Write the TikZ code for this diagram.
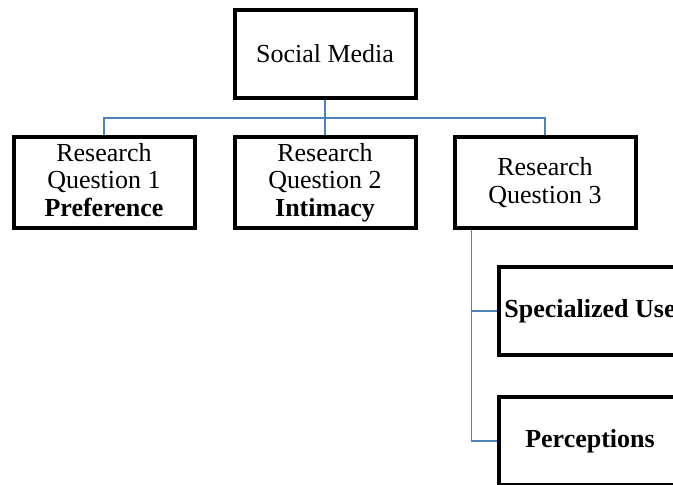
\documentclass[tikz,border=0pt]{standalone}
\usepackage{fontspec}
\setmainfont{Liberation Serif}
\usetikzlibrary{positioning}
\definecolor{linkblue}{RGB}{79,129,189}

\begin{document}
\begin{tikzpicture}[
  x=1pt, y=-1pt,
  node distance=36pt and 36pt,
  qbox/.style={rectangle, draw=black, line width=4pt, fill=white, minimum width=181pt, minimum height=91pt, inner sep=0pt, align=center, font=\fontsize{26}{27.5}\selectfont},
  link/.style={draw=linkblue, line width=1.6pt},
]
  \clip (0,0) rectangle (673,485);

  % Top level
  \node[qbox, minimum height=88pt] (social) at (325,54) {Social Media};

  % Research questions
  \node[qbox] (rq2) at (325,182.5) {Research\\Question 2\\\textbf{Intimacy}};
  \node[qbox, left=36pt of rq2] (rq1) {Research\\Question 1\\\textbf{Preference}\vphantom{y}};
  \node[qbox, right=35pt of rq2] (rq3) {Research\\Question 3};

  % Sub-topics of RQ3
  \node[qbox, minimum width=182pt, minimum height=88pt] (spec) at (590,311) {\textbf{Specialized Use}};
  \node[qbox, minimum width=182pt, minimum height=88pt, below=38pt of spec] (perc) {\textbf{Perceptions}};

  % Connectors
  \draw[link] (social.south) -- ++(0,18) -| (rq1.north);
  \draw[link] (social.south) -- (rq2.north);
  \draw[link] (social.south) -- ++(0,18) -| (rq3.north);
  \draw[link] ([xshift=19pt]rq3.south west) |- (spec.west);
  \draw[link] ([xshift=19pt]rq3.south west) |- (perc.west);
\end{tikzpicture}
\end{document}
